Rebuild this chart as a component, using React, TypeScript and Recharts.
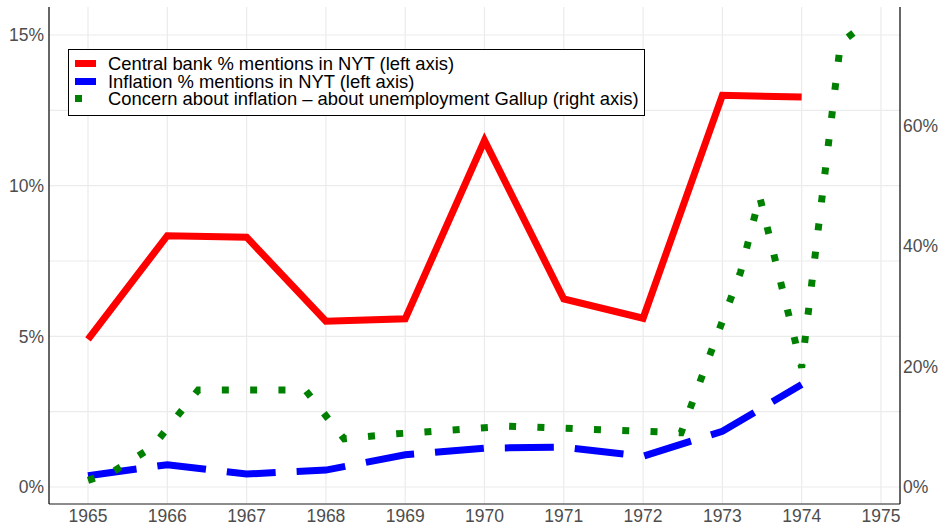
import React from 'react';
import { LineChart, Line, XAxis, YAxis, CartesianGrid } from 'recharts';

// NYT mentions, annual (left axis, %)
const years = [1965, 1966, 1967, 1968, 1969, 1970, 1971, 1972, 1973, 1974];
const centralBank = [4.9, 8.34, 8.29, 5.5, 5.58, 11.5, 6.24, 5.6, 13.0, 12.94];
const inflation = [0.37, 0.74, 0.43, 0.56, 1.07, 1.29, 1.32, 1.02, 1.85, 3.4];

// Gallup: inflation minus unemployment concern (right axis, %)
const gallupDates = [1965.0, 1965.3, 1965.81, 1966.39, 1967.74, 1968.23, 1968.87, 1970.3, 1972.48, 1973.23, 1973.47, 1974.0, 1974.49, 1974.72];
const gallupValues = [1.1, 2.4, 6.6, 16.1, 16.1, 8.0, 8.8, 10.1, 9.0, 35.7, 48.2, 19.8, 73.7, 76.0];

const xTicks = [1965, 1966, 1967, 1968, 1969, 1970, 1971, 1972, 1973, 1974, 1975];
const leftTicks = [0, 5, 10, 15];
const leftGrid = [0, 2.5, 5, 7.5, 10, 12.5, 15];
const rightTicks = [0, 20, 40, 60];

const legendItems = [
  { label: 'Central bank % mentions in NYT (left axis)', color: '#FF0000', w: 21 },
  { label: 'Inflation % mentions in NYT (left axis)', color: '#0000FF', w: 21 },
  { label: 'Concern about inflation \u2013 about unemployment Gallup (right axis)', color: '#008000', w: 7 },
];

const nytData = years.map((year, i) => ({ year, central: centralBank[i], inflation: inflation[i] }));
const gallupData = gallupDates.map((year, i) => ({ year, gallup: gallupValues[i] }));

const tickStyle = { fontSize: 17.5, fill: '#4D4D4D', fontFamily: '"Liberation Sans", Arial, sans-serif' };

const App = () => {
  return (
    <div style={{ position: 'absolute', left: 0, top: 0, width: 940, height: 527, background: '#fff' }}>
      <LineChart width={940} height={527} margin={{ top: 7, right: 0, bottom: 0, left: 0 }}>
        <CartesianGrid
          stroke="#EBEBEB"
          strokeWidth={1.2}
          horizontalValues={leftGrid}
          verticalValues={xTicks}
        />
        <XAxis
          dataKey="year"
          type="number"
          domain={[1964.508, 1975.24]}
          allowDataOverflow
          ticks={xTicks}
          interval={0}
          height={23}
          tickLine={false}
          tickSize={5}
          tickMargin={1}
          axisLine={{ stroke: '#666666', strokeWidth: 1.5 }}
          tick={tickStyle}
        />
        <YAxis
          domain={[-0.565, 15.93]}
          allowDataOverflow
          ticks={leftTicks}
          width={49}
          tickLine={false}
          tickSize={3}
          tickMargin={2}
          tickFormatter={(v: number) => `${v}%`}
          axisLine={{ stroke: '#000000', strokeWidth: 1.2 }}
          tick={tickStyle}
        />
        <YAxis
          yAxisId="right"
          orientation="right"
          domain={[-2.825, 79.65]}
          allowDataOverflow
          ticks={rightTicks}
          width={40}
          tickLine={false}
          tickSize={2}
          tickMargin={1}
          tickFormatter={(v: number) => `${v}%`}
          axisLine={{ stroke: '#000000', strokeWidth: 1.2 }}
          tick={tickStyle}
        />
        <Line
          data={nytData}
          dataKey="central"
          stroke="#FF0000"
          strokeWidth={7}
          strokeLinejoin="miter"
          dot={false}
          activeDot={false}
          isAnimationActive={false}
        />
        <Line
          data={nytData}
          dataKey="inflation"
          stroke="#0000FF"
          strokeWidth={7}
          strokeDasharray="49 21"
          dot={false}
          activeDot={false}
          isAnimationActive={false}
        />
        <Line
          data={gallupData}
          yAxisId="right"
          dataKey="gallup"
          stroke="#008000"
          strokeWidth={7}
          strokeDasharray="7 21.3"
          dot={false}
          activeDot={false}
          isAnimationActive={false}
        />
      </LineChart>

      {/* legend box */}
      <div
        style={{
          position: 'absolute',
          left: 68,
          top: 49,
          width: 577,
          height: 67,
          border: '1px solid #000',
          background: '#fff',
          boxSizing: 'border-box',
          paddingTop: 5,
          fontFamily: '"Liberation Sans", Arial, sans-serif',
          fontSize: 18.4,
          color: '#000',
        }}
      >
        {legendItems.map((item) => (
          <div key={item.label} style={{ display: 'flex', alignItems: 'center', height: 17.5, whiteSpace: 'nowrap' }}>
            <div style={{ width: 33, flexShrink: 0, paddingLeft: 6 }}>
              <div style={{ width: item.w, height: 7, background: item.color }} />
            </div>
            <span style={{ display: 'inline-block', height: 17.5, lineHeight: '17.5px', overflow: 'visible' }}>{item.label}</span>
          </div>
        ))}
      </div>
    </div>
  );
};

export default App;
